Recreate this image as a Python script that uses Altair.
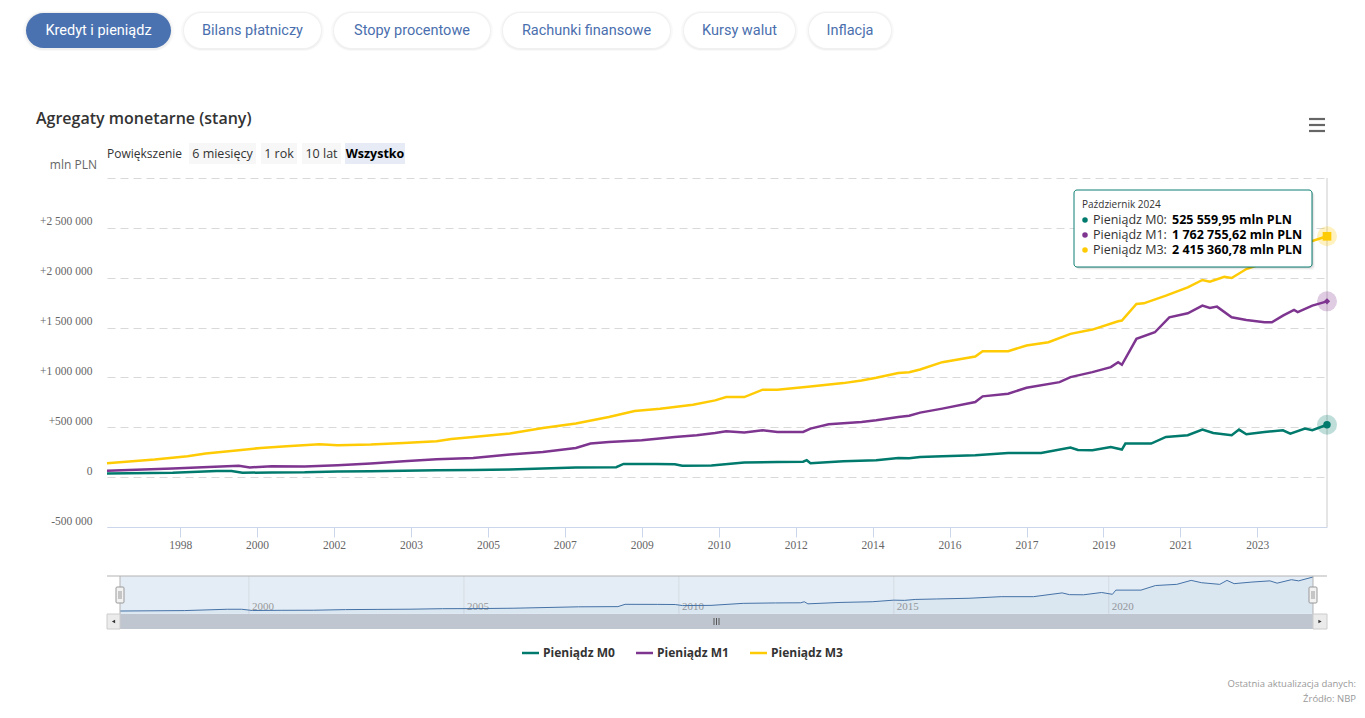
import altair as alt
import pandas as pd

# ---------------- data (mln PLN) ----------------
m0_dates = ["1997-01", "1998-07", "1999-07", "1999-11", "2000-02", "2000-10", "2001-07", "2002-04",
            "2003-01", "2003-10", "2004-07", "2005-05", "2006-03", "2007-09", "2008-08", "2008-10",
            "2009-07", "2009-12", "2010-02", "2010-10", "2011-07", "2012-04", "2012-11", "2012-12",
            "2013-01", "2013-10", "2014-07", "2015-01", "2015-04", "2015-07", "2016-01", "2016-10",
            "2017-07", "2018-04", "2018-12", "2019-02", "2019-06", "2019-11", "2020-02", "2020-03",
            "2020-10", "2021-02", "2021-08", "2021-12", "2022-03", "2022-08", "2022-10", "2022-12",
            "2023-05", "2023-10", "2023-12", "2024-04", "2024-06", "2024-10"]
m0_values = [37000, 43000, 62000, 62000, 44000, 47000, 48000, 57000,
             60000, 63000, 70000, 72000, 77000, 97000, 100000, 133000,
             132000, 130000, 115000, 118000, 147000, 153000, 155000, 170000,
             140000, 160000, 170000, 193000, 190000, 203000, 210000, 220000,
             243000, 243000, 297000, 272000, 270000, 303000, 277000, 337000,
             337000, 403000, 420000, 477000, 443000, 420000, 477000, 430000,
             453000, 470000, 437000, 487000, 470000, 525559.95]

m1_dates = ["1997-01", "1998-07", "2000-01", "2000-04", "2000-10", "2001-07", "2002-04", "2003-01",
            "2003-10", "2004-07", "2005-05", "2006-03", "2006-12", "2007-09", "2008-01", "2008-06",
            "2009-03", "2009-12", "2010-06", "2010-11", "2011-02", "2011-07", "2011-12", "2012-04",
            "2012-11", "2013-01", "2013-06", "2014-03", "2014-07", "2015-01", "2015-04", "2015-07",
            "2016-01", "2016-10", "2016-12", "2017-07", "2017-12", "2018-09", "2018-12", "2019-06",
            "2019-11", "2020-01", "2020-02", "2020-06", "2020-11", "2021-03", "2021-08", "2021-12",
            "2022-02", "2022-04", "2022-08", "2022-12", "2023-05", "2023-07", "2023-10", "2024-01",
            "2024-02", "2024-06", "2024-10"]
m1_values = [63000, 87000, 113000, 97000, 110000, 107000, 120000, 137000,
             160000, 180000, 193000, 227000, 253000, 293000, 337000, 353000,
             370000, 403000, 420000, 443000, 460000, 447000, 470000, 453000,
             453000, 487000, 530000, 553000, 570000, 603000, 615000, 647000,
             687000, 753000, 810000, 837000, 897000, 953000, 1003000, 1053000,
             1103000, 1153000, 1127000, 1387000, 1453000, 1603000, 1643000, 1720000,
             1697000, 1710000, 1603000, 1577000, 1553000, 1553000, 1620000, 1677000,
             1655000, 1720000, 1762755.62]

m3_dates = ["1997-01", "1998-02", "1998-11", "1999-04", "2000-01", "2000-07", "2001-02", "2001-11",
            "2002-04", "2003-01", "2003-10", "2004-07", "2004-11", "2005-05", "2006-03", "2006-12",
            "2007-09", "2008-06", "2009-01", "2009-08", "2010-05", "2010-11", "2011-02", "2011-07",
            "2011-12", "2012-04", "2013-01", "2013-10", "2014-03", "2014-07", "2015-01", "2015-04",
            "2015-07", "2016-01", "2016-10", "2016-12", "2017-07", "2017-12", "2018-06", "2018-12",
            "2019-06", "2020-01", "2020-02", "2020-06", "2020-08", "2021-02", "2021-08", "2021-12",
            "2022-02", "2022-06", "2022-08", "2022-12", "2023-04", "2023-08", "2024-01", "2024-10"]
m3_values = [140000, 177000, 210000, 237000, 270000, 293000, 310000, 330000,
             320000, 327000, 343000, 360000, 383000, 403000, 437000, 493000,
             537000, 603000, 663000, 687000, 727000, 770000, 803000, 803000,
             877000, 877000, 910000, 943000, 970000, 997000, 1045000, 1053000,
             1080000, 1153000, 1210000, 1263000, 1263000, 1320000, 1353000, 1437000,
             1480000, 1563000, 1570000, 1737000, 1743000, 1820000, 1903000, 1977000,
             1960000, 2010000, 1997000, 2087000, 2137000, 2210000, 2310000, 2415360.78]

series_names = ["Pieniądz M0", "Pieniądz M1", "Pieniądz M3"]
series_colors = ["#007a6c", "#7e3590", "#ffcb05"]

x_tick_dates = ["1998-09", "2000-06", "2002-03", "2003-12", "2005-09", "2007-06", "2009-03",
                "2010-12", "2012-09", "2014-06", "2016-03", "2017-12", "2019-09", "2021-06", "2023-03"]
y_ticks = [-500000, 0, 500000, 1000000, 1500000, 2000000, 2500000, 3000000]
nav_years = ["2000", "2005", "2010", "2015", "2020"]

tabs = ["Kredyt i pieniądz", "Bilans płatniczy", "Stopy procentowe", "Rachunki finansowe",
        "Kursy walut", "Inflacja"]
range_buttons = ["6 miesięcy", "1 rok", "10 lat", "Wszystko"]
tooltip_title = "Październik 2024"

# ---------------- tables ----------------
frames = []
for name, d, v in [(series_names[0], m0_dates, m0_values),
                   (series_names[1], m1_dates, m1_values),
                   (series_names[2], m3_dates, m3_values)]:
    assert len(d) == len(v)
    frames.append(pd.DataFrame({"date": [s + "-01" for s in d], "value": v, "series": name}))
df = pd.concat(frames, ignore_index=True)
m0_df = frames[0]
nav_df = pd.DataFrame({"date": [y + "-01-01" for y in nav_years], "year": nav_years})


def dt(s):
    y, m = s.split("-")[:2]
    return alt.DateTime(year=int(y), month=int(m), date=1, utc=True)


x_dom = [dt("1997-01"), dt("2024-10")]
X0, Y0 = 107, 178


def px(x):
    return x - X0


def py(y):
    return y - Y0


dummy = pd.DataFrame({"d": [0]})


def box(x1, x2, y1, y2, **kw):
    return alt.Chart(dummy).mark_rect(**kw).encode(
        x=alt.value(px(x1)), x2=alt.value(px(x2)), y=alt.value(py(y1)), y2=alt.value(py(y2)))


def label(x, y, s, **kw):
    kw.setdefault("baseline", "middle")
    return alt.Chart(dummy).mark_text(text=s, **kw).encode(x=alt.value(px(x)), y=alt.value(py(y)))


def hrule(x1, x2, y, **kw):
    return alt.Chart(dummy).mark_rule(**kw).encode(
        x=alt.value(px(x1)), x2=alt.value(px(x2)), y=alt.value(py(y)))


def vrule(x, y1, y2, **kw):
    return alt.Chart(dummy).mark_rule(**kw).encode(
        x=alt.value(px(x)), y=alt.value(py(y1)), y2=alt.value(py(y2)))


layers = []

# ---------------- tabs ----------------
tab_bounds = [(26, 171), (184, 321), (334, 490), (503, 670), (684, 795), (809, 891)]
for i, (t, (a, b)) in enumerate(zip(tabs, tab_bounds)):
    layers.append(box(a - 3, b + 3, 11, 51, fill="#000000", opacity=0.025, cornerRadius=20))
    layers.append(box(a - 1, b + 1, 12, 50, fill="#000000", opacity=0.035, cornerRadius=18))
    layers.append(box(a, b, 13, 48, fill="#4a72b0" if i == 0 else "#ffffff", cornerRadius=17.5))
    layers.append(label((a + b) / 2, 31, t, align="center", font="Roboto", fontSize=14.5,
                        color="#ffffff" if i == 0 else "#4a6fae"))

# ---------------- title / range selector / menu ----------------
layers.append(label(36, 119, "Agregaty monetarne (stany)", align="left", font="Open Sans",
                    fontSize=16, fontWeight=600, color="#333333"))
layers.append(label(97, 165, "mln PLN", align="right", font="Open Sans", fontSize=12, color="#666666"))
layers.append(label(107, 154, "Powiększenie", align="left", font="Open Sans", fontSize=12, color="#333333"))
btn_bounds = [(189, 256), (261, 297), (302, 341), (345, 405)]
for i, (t, (a, b)) in enumerate(zip(range_buttons, btn_bounds)):
    sel = i == len(range_buttons) - 1
    layers.append(box(a, b, 143, 164, fill="#e6ebf5" if sel else "#f7f7f7"))
    layers.append(label((a + b) / 2, 153.5, t, align="center", font="Open Sans", fontSize=12.5,
                        fontWeight="bold" if sel else "normal", color="#000000" if sel else "#333333"))
for yy in (119, 125, 131):
    layers.append(hrule(1309, 1325, yy, color="#666666", strokeWidth=2.2))

# ---------------- main series ----------------
x_main = alt.Scale(type="utc", domain=x_dom)
y_main = alt.Scale(domain=[-500000, 3000000], nice=False, zero=False)
color_scale = alt.Scale(domain=series_names, range=series_colors)

y_label_expr = ("datum.value >= 3000000 ? '' : (datum.value > 0 ? '+' : (datum.value < 0 ? '-' : '')) + "
                "replace(format(abs(datum.value), ','), regexp(',', 'g'), ' ')")

lines = alt.Chart(df).mark_line(strokeWidth=2.5).encode(
    x=alt.X("date:T", scale=x_main, title=None,
            axis=alt.Axis(values=[dt(s) for s in x_tick_dates],
                          labelExpr="utcFormat(datum.value, '%Y')",
                          domainColor="#ccd6eb", tickColor="#ccd6eb", tickSize=10,
                          labelFont="Liberation Serif", labelFontSize=11.5, labelColor="#666666",
                          labelPadding=2, labelAngle=0, labelOverlap=False, labelFlush=False,
                          grid=False)),
    y=alt.Y("value:Q", scale=y_main, title=None,
            axis=alt.Axis(values=y_ticks, labelExpr=y_label_expr, grid=True,
                          gridColor="#d9d9d9", gridDash=[8, 5], domain=False, ticks=False,
                          labelFont="Liberation Serif", labelFontSize=11.5, labelColor="#666666",
                          labelPadding=15, labelOffset=-6, labelOverlap=False)),
    color=alt.Color("series:N", scale=color_scale, legend=None),
)

# crosshair at the hovered month
layers.append(vrule(1327, 178, 527, color="#cccccc", strokeWidth=1))
layers.append(lines)

# endpoint markers (hovered last month)
last_date = df["date"].max()
shapes = ["circle", "diamond", "square"]
sizes = [55, 40, 75]
for name, col, shp, sz in zip(series_names, series_colors, shapes, sizes):
    last = df[(df["series"] == name) & (df["date"] == last_date)]
    enc = dict(x=alt.X("date:T", scale=x_main, axis=None), y=alt.Y("value:Q", scale=y_main, axis=None))
    layers.append(alt.Chart(last).mark_circle(size=400, opacity=0.25, color=col).encode(**enc))
    layers.append(alt.Chart(last).mark_point(shape=shp, size=sz, filled=True, opacity=1,
                                              color=col).encode(**enc))

# ---------------- tooltip ----------------
for off, op in [(3, 0.03), (2, 0.06), (1, 0.1)]:
    layers.append(box(1074 + off, 1312 + off, 190 + off, 267 + off, fill="#000000", opacity=op,
                      cornerRadius=3))
layers.append(box(1074, 1312, 190, 267, fill="#ffffff", stroke="#0d7f73", strokeWidth=1,
                  cornerRadius=3))
layers.append(label(1082, 205, tooltip_title, align="left", font="Open Sans", fontSize=10,
                    color="#333333"))
last_vals = [m0_values[-1], m1_values[-1], m3_values[-1]]
for i, (name, col, v) in enumerate(zip(series_names, series_colors, last_vals)):
    yy = 220 + 15 * i
    txt = f"{v:,.2f}".replace(",", " ").replace(".", ",") + " mln PLN"
    layers.append(alt.Chart(dummy).mark_circle(size=30, color=col, opacity=1).encode(
        x=alt.value(px(1085)), y=alt.value(py(yy))))
    layers.append(label(1093, yy, name + ":", align="left", font="Open Sans", fontSize=12.5,
                        color="#333333"))
    layers.append(label(1172, yy, txt, align="left", font="Open Sans", fontSize=12.5,
                        fontWeight="bold", color="#000000"))

# ---------------- navigator ----------------
nav_x = alt.Scale(type="utc", domain=x_dom, range=[px(120), px(1313)])
nav_y = alt.Scale(domain=[min(m0_values), max(m0_values)], range=[py(611), py(577)],
                  nice=False, zero=False)
layers.append(box(120, 1313, 576, 614, fill="#e4edf5"))
layers.append(alt.Chart(nav_df).mark_rule(color="#d5dbe3", strokeWidth=1).encode(
    x=alt.X("date:T", scale=nav_x, axis=None), y=alt.value(py(576)), y2=alt.value(py(614))))
layers.append(alt.Chart(nav_df).mark_text(align="left", baseline="middle", dx=3, font="Liberation Serif",
                                          fontSize=11, color="#999999").encode(
    x=alt.X("date:T", scale=nav_x, axis=None), y=alt.value(py(607)), text="year:N"))
layers.append(alt.Chart(m0_df).mark_area(color="#4572a7", opacity=0.06).encode(
    x=alt.X("date:T", scale=nav_x, axis=None), y=alt.Y("value:Q", scale=nav_y, axis=None),
    y2=alt.value(py(614))))
layers.append(alt.Chart(m0_df).mark_line(color="#4572a7", strokeWidth=1).encode(
    x=alt.X("date:T", scale=nav_x, axis=None), y=alt.Y("value:Q", scale=nav_y, axis=None)))
layers.append(hrule(107, 1327, 576, color="#b3b3b3", strokeWidth=1))
layers.append(vrule(120, 576, 614, color="#b3b3b3", strokeWidth=1))
layers.append(vrule(1313, 576, 614, color="#b3b3b3", strokeWidth=1))
for hx in (120, 1313):
    layers.append(box(hx - 4, hx + 4, 587, 603, fill="#f2f2f2", stroke="#999999", strokeWidth=1,
                      cornerRadius=1))
    layers.append(vrule(hx - 1, 591, 599, color="#999999", strokeWidth=1))
    layers.append(vrule(hx + 1, 591, 599, color="#999999", strokeWidth=1))

# scrollbar
layers.append(box(107, 1327, 614, 629, fill="#f2f2f2"))
layers.append(box(120, 1313, 614, 629, fill="#c0c6cf"))
layers.append(box(107, 120, 614, 629, fill="#ebebeb", stroke="#cccccc", strokeWidth=1))
layers.append(box(1313, 1327, 614, 629, fill="#ebebeb", stroke="#cccccc", strokeWidth=1))
layers.append(alt.Chart(dummy).mark_point(shape="triangle-left", size=14, filled=True, color="#333333",
                                          opacity=1).encode(x=alt.value(px(113.5)), y=alt.value(py(621.5))))
layers.append(alt.Chart(dummy).mark_point(shape="triangle-right", size=14, filled=True, color="#333333",
                                          opacity=1).encode(x=alt.value(px(1320)), y=alt.value(py(621.5))))
for gx in (714, 716.5, 719):
    layers.append(vrule(gx, 618, 625, color="#555555", strokeWidth=1))

# ---------------- legend ----------------
legend_pos = [(522, 543), (636, 657), (750, 771)]
for name, col, (sx, tx) in zip(series_names, series_colors, legend_pos):
    layers.append(hrule(sx, sx + 17, 653, color=col, strokeWidth=2.5))
    layers.append(label(tx, 653, name, align="left", font="Open Sans", fontSize=12,
                        fontWeight="bold", color="#333333"))

# ---------------- footer ----------------
layers.append(label(1356, 684, "Ostatnia aktualizacja danych:", align="right", font="Open Sans",
                    fontSize=9.5, color="#999999"))
layers.append(label(1356, 699, "Źródło: NBP", align="right", font="Open Sans", fontSize=9.5,
                  color="#999999"))

chart = alt.layer(*layers).resolve_scale(x="independent", y="independent").properties(
    width=1220, height=349,
    padding={"left": 99, "top": 170, "right": 30, "bottom": 180},
    autosize=alt.AutoSizeParams(type="none"),
).configure_view(strokeWidth=0)

chart.save("out.html", embed_options={"renderer": "svg", "actions": False})
